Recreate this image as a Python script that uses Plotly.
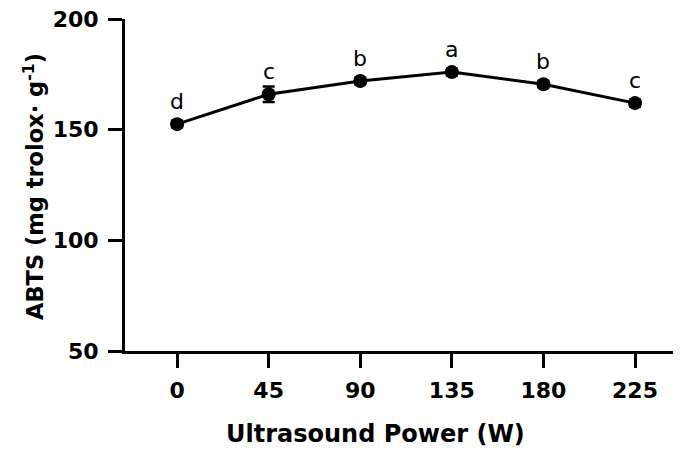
import plotly.graph_objects as go

power = [0, 45, 90, 135, 180, 225]
abts = [152.5, 166.0, 172.0, 176.0, 170.5, 162.0]
abts_err = [1.5, 3.5, 1.5, 1.5, 1.5, 1.5]
letters = ["d", "c", "b", "a", "b", "c"]
y_ticks = [50, 100, 150, 200]
x_title = "Ultrasound Power (W)"
y_title = "ABTS (mg trolox· g<sup>-1</sup>)"

FONT = "DejaVu Sans"

fig = go.Figure()
fig.add_trace(go.Scatter(
    x=power, y=abts, mode="lines+markers",
    line=dict(color="black", width=3),
    marker=dict(size=14, color="black"),
    error_y=dict(type="data", array=abts_err, color="black", thickness=2.5, width=6),
    showlegend=False,
))

for xv, yv, t in zip(power, abts, letters):
    fig.add_annotation(x=xv, y=yv, text=t, showarrow=False, yanchor="bottom",
                       yshift=8, font=dict(family=FONT, size=22, color="black"))

fig.add_annotation(xref="paper", yref="paper", x=0.45, y=-0.25, text=x_title,
                   showarrow=False, xanchor="center", yanchor="middle",
                   font=dict(family=FONT, size=24, color="black", weight="bold"))
fig.add_annotation(xref="paper", yref="paper", x=-0.1637, y=0.497, text=y_title,
                   showarrow=False, xanchor="center", yanchor="middle", textangle=-90,
                   font=dict(family=FONT, size=22.5, color="black", weight="bold"))

axis_common = dict(
    showline=True, linewidth=3, linecolor="black", mirror=False,
    ticks="outside", ticklen=14, tickwidth=3, tickcolor="black",
    showgrid=False, zeroline=False, ticklabeloverflow="allow",
    tickfont=dict(family=FONT, size=22, color="black", weight="bold"),
)

# page body adds an 8px offset; figure sized so plot lands where the reference has it
fig.update_layout(
    width=673, height=444,
    margin=dict(l=117, r=0, t=11, b=101),
    plot_bgcolor="white", paper_bgcolor="white",
    xaxis=dict(range=[-25.6, 247.6], tickvals=power, ticklabelstandoff=4, **axis_common),
    yaxis=dict(range=[50, 200], tickvals=y_ticks, ticklabelstandoff=5, **axis_common),
)

fig.write_html("out.html")
